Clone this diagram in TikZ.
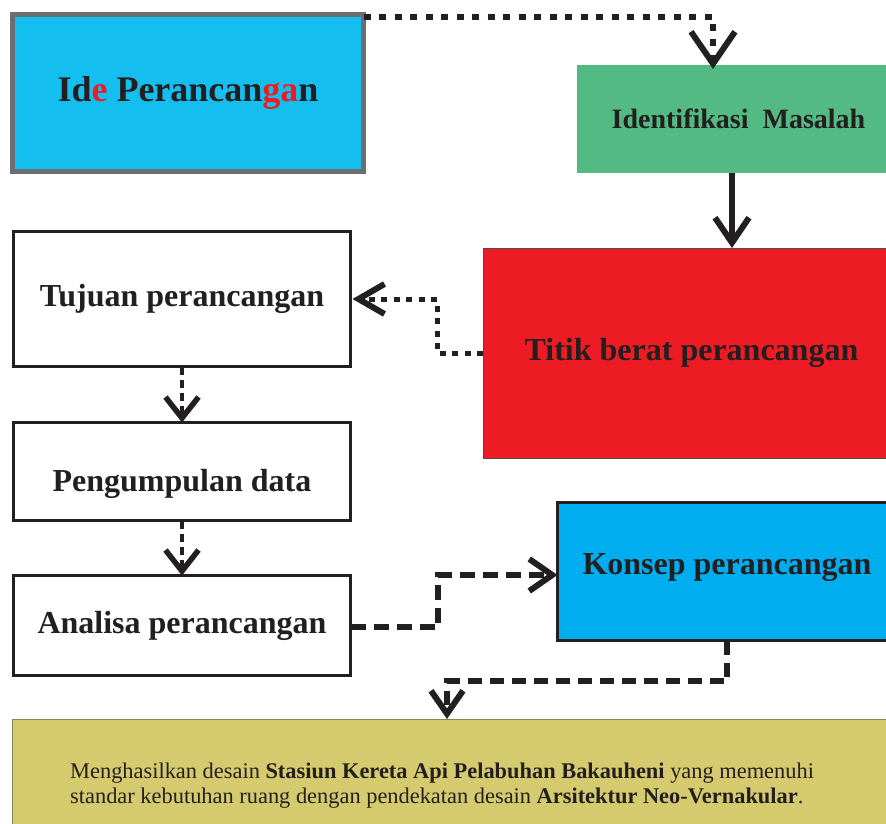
\documentclass[tikz,border=0pt]{standalone}
\usepackage{fontspec}
\setmainfont{Liberation Serif}
\usetikzlibrary{arrows.meta,calc}
\definecolor{ideblue}{HTML}{14BFF0}
\definecolor{konblue}{HTML}{00AEEF}
\definecolor{idgreen}{HTML}{52BA82}
\definecolor{tred}{HTML}{ED1C24}
\definecolor{olivebox}{HTML}{D5CA6E}
\definecolor{ink}{HTML}{231F20}
\definecolor{bordergray}{HTML}{6D6E71}
\definecolor{oliveline}{HTML}{8A8559}
\begin{document}
\begin{tikzpicture}[x=1pt,y=-1pt,
  box/.style={rectangle,inner sep=0pt,outer sep=0pt,text=ink,
    font=\bfseries\fontsize{32}{38}\selectfont},
  whitebox/.style={box,draw=ink,line width=3pt,fill=white,minimum width=337pt},
  dotA/.style={draw=ink,line width=6pt,dash pattern=on 7pt off 8.5pt},
  dotB/.style={draw=ink,line width=5pt,dash pattern=on 6pt off 6.5pt},
  dashS/.style={draw=ink,line width=4pt,dash pattern=on 8pt off 5pt},
  dashM/.style={draw=ink,line width=6pt,dash pattern=on 15pt off 8pt},
  dashL/.style={draw=ink,line width=6pt,dash pattern=on 14pt off 8pt},
  solidline/.style={draw=ink,line width=6pt},
  tipA/.style={-{Straight Barb[length=32pt,width=44pt,line width=6pt]}},
  tipB/.style={-{Straight Barb[length=25pt,width=34pt,line width=6pt]}},
  tipC/.style={-{Straight Barb[length=26pt,width=30pt,line width=6pt]}},
  tipS/.style={-{Straight Barb[length=21pt,width=33pt,line width=5.5pt]}},
  tipM/.style={-{Straight Barb[length=23pt,width=32pt,line width=6pt]}}
]
\path[use as bounding box, fill=white] (0,0) rectangle (886,824);

% boxes
\node[box, draw=bordergray, line width=5pt, fill=ideblue,
  minimum width=351pt, minimum height=157pt,
  font=\bfseries\fontsize{36}{40}\selectfont] (ide) at (188,93)
  {Id\textcolor{tred}{e} Perancan\textcolor{tred}{ga}n};

\node[box, fill=idgreen, minimum width=323pt, minimum height=108pt,
  font=\bfseries\fontsize{28}{32}\selectfont] (ident) at (738.5,119)
  {Identifikasi\ \ Masalah};

\node[box, fill=tred, draw=ink!80, line width=1pt,
  minimum width=417pt, minimum height=210pt] (titik) at (691.5,353)
  {Titik berat perancangan};

\node[whitebox, minimum height=135pt] (tujuan) at (182,299) {Tujuan perancangan};

\node[whitebox, minimum height=98pt] (peng) at (182,471.5) {};
\node[box] (tpeng) at (182,484) {Pengumpulan data};

\node[whitebox, minimum height=100pt] (analisa) at (182,625.5) {Analisa perancangan};

\node[box, fill=konblue, draw=ink, line width=3pt,
  minimum width=342.5pt, minimum height=138pt] (konsep) at (728.75,571.5) {};
\node[box] (tkonsep) at (727,568) {Konsep perancangan};

\node[box, fill=olivebox, draw=oliveline, line width=1pt,
  minimum width=888pt, minimum height=111pt] (bottom) at (456,774.5) {};
\node[anchor=west, align=left, inner sep=0pt, text=ink,
  font=\fontsize{22.4}{25}\selectfont] (tbottom) at (70,786)
  {Menghasilkan desain \textbf{Stasiun Kereta Api Pelabuhan Bakauheni} yang memenuhi\\
   standar kebutuhan ruang dengan pendekatan desain \textbf{Arsitektur Neo-Vernakular}.};

% connectors
\draw[dotA, tipA] ($(ide.north east)+(0,2.5)$) -| ($(ident.north west)+(136,4)$);
\draw[solidline, tipB] (ident.south -| 732,0) -- (titik.north -| 732,0);
\draw[dotB, tipC] (titik.west |- 0,353) -| (437,299) -- ($(tujuan.east)+(2,0)$);
\draw[dashS, tipS] (tujuan.south) -- (peng.north);
\draw[dashS, tipS] (peng.south) -- (analisa.north);
\draw[dashM, tipM] (analisa.east |- 0,627) -| (438,575) -- (konsep.west |- 0,575);
\draw[dashL, tipM] (konsep.south -| 727,0) |- (447,681) -- (bottom.north -| 447,0);
\end{tikzpicture}
\end{document}
